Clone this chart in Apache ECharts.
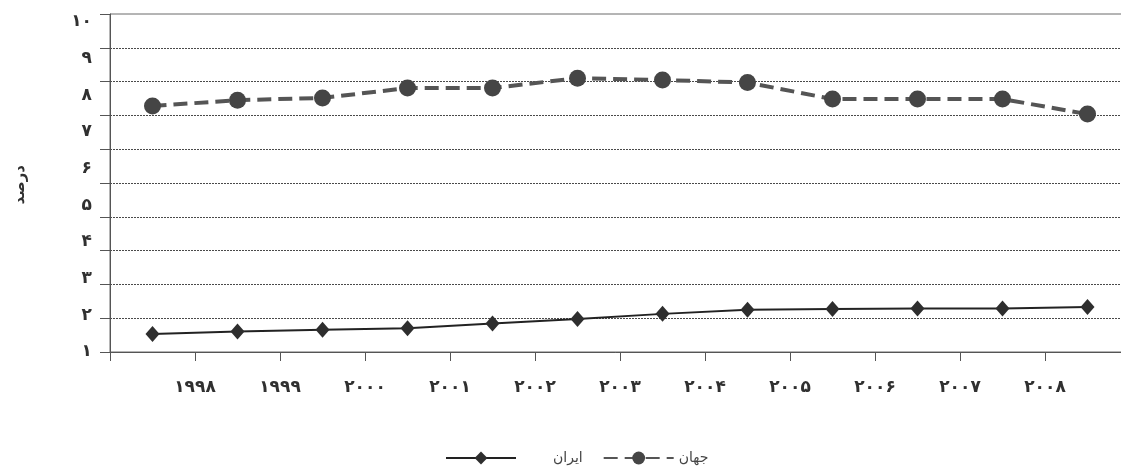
<!DOCTYPE html>
<html>
<head>
<meta charset="utf-8">
<script src="https://cdn.jsdelivr.net/npm/echarts@6/dist/echarts.min.js"></script>
<style>
  html, body { margin: 0; padding: 0; background: #ffffff; }
  #chart { width: 1121px; height: 468px; }
</style>
</head>
<body>
<div id="chart"></div>
<script>
// Twelve yearly observations, one per band of the category axis
const categories = ['1', '2', '3', '4', '5', '6', '7', '8', '9', '10', '11', '12'];
// Year labels sit on the band boundaries
const yearLabels = ['۱۹۹۸', '۱۹۹۹', '۲۰۰۰', '۲۰۰۱', '۲۰۰۲', '۲۰۰۳', '۲۰۰۴', '۲۰۰۵', '۲۰۰۶', '۲۰۰۷', '۲۰۰۸'];
// Percent tick labels 1..10
const percentLabels = ['۱', '۲', '۳', '۴', '۵', '۶', '۷', '۸', '۹', '۱۰'];

const iranName = 'ایران';
const worldName = 'جهان';
const iranValues = [1.49, 1.56, 1.61, 1.65, 1.78, 1.90, 2.04, 2.15, 2.17, 2.19, 2.19, 2.23];
const worldValues = [7.71, 7.87, 7.93, 8.20, 8.20, 8.47, 8.42, 8.35, 7.90, 7.90, 7.90, 7.49];

const FONT = '"DejaVu Sans", "Noto Sans", sans-serif';
const INK = '#303030';

const chart = echarts.init(document.getElementById('chart'), null, { renderer: 'canvas' });

chart.setOption({
  backgroundColor: '#ffffff',
  animation: false,
  grid: {
    left: 110, top: 14, width: 1020, height: 338,
    outerBoundsMode: 'none', containLabel: false,
    show: true, borderColor: '#6a6a6a', borderWidth: 1, backgroundColor: 'transparent'
  },
  legend: {
    left: 440, top: 446,
    itemWidth: 70, itemHeight: 16, itemGap: 20,
    textStyle: { fontFamily: FONT, fontSize: 14, color: '#444' },
    data: [
      { name: iranName, textStyle: { padding: [0, 0, 0, 32] } },
      { name: worldName }
    ]
  },
  xAxis: [
    {
      // data axis: one band per observation
      type: 'category', data: categories, boundaryGap: true,
      axisLine: { show: true, lineStyle: { color: '#555', width: 1 } },
      axisTick: { show: false }, axisLabel: { show: false }, splitLine: { show: false }
    },
    {
      // boundary ticks and year labels
      type: 'value', min: 0, max: 12, interval: 1, position: 'bottom',
      axisLine: { show: false },
      axisTick: { show: true, length: 9, lineStyle: { color: '#555', width: 1 } },
      axisLabel: {
        margin: 27, fontFamily: FONT, fontSize: 17, fontWeight: 'bold', color: INK,
        formatter: v => (v >= 1 && v <= yearLabels.length) ? yearLabels[v - 1] : ''
      },
      splitLine: { show: false }
    }
  ],
  yAxis: [
    {
      // gridline scale
      type: 'value', min: 0, max: 10, interval: 1, position: 'left',
      axisLine: { show: true, lineStyle: { color: '#555', width: 1 } },
      axisTick: { show: true, length: 10, lineStyle: { color: '#555', width: 1 } },
      axisLabel: { show: false },
      splitLine: {
        show: true, showMinLine: false, showMaxLine: false,
        lineStyle: { color: '#4a4a4a', width: 1, type: [2, 1] }
      }
    },
    {
      // percent scale with labels
      type: 'value', min: 1, max: 10.22, interval: 1, position: 'left', offset: 0,
      axisLine: { show: false }, axisTick: { show: false }, splitLine: { show: false },
      axisLabel: {
        margin: 18, fontFamily: FONT, fontSize: 17, fontWeight: 'bold', color: INK,
        formatter: v => {
          const r = Math.round(v);
          return Math.abs(v - r) < 1e-6 && r >= 1 && r <= percentLabels.length ? percentLabels[r - 1] : '';
        }
      }
    }
  ],
  graphic: [
    {
      type: 'text', left: 13, top: 165, rotation: Math.PI / 2,
      style: { text: 'درصد', font: 'bold 15px ' + FONT, fill: INK }
    }
  ],
  series: [
    {
      name: iranName, type: 'line', xAxisIndex: 0, yAxisIndex: 1,
      data: iranValues,
      symbol: 'diamond', symbolSize: [14, 16],
      lineStyle: { color: '#222', width: 2, type: 'solid' },
      itemStyle: { color: '#2e2e2e' },
      z: 3
    },
    {
      name: worldName, type: 'line', xAxisIndex: 0, yAxisIndex: 1,
      data: worldValues,
      symbol: 'circle', symbolSize: 17,
      lineStyle: { color: '#555', width: 4, type: [14, 7] },
      itemStyle: { color: '#454545' },
      z: 3
    }
  ]
});
</script>
</body>
</html>
